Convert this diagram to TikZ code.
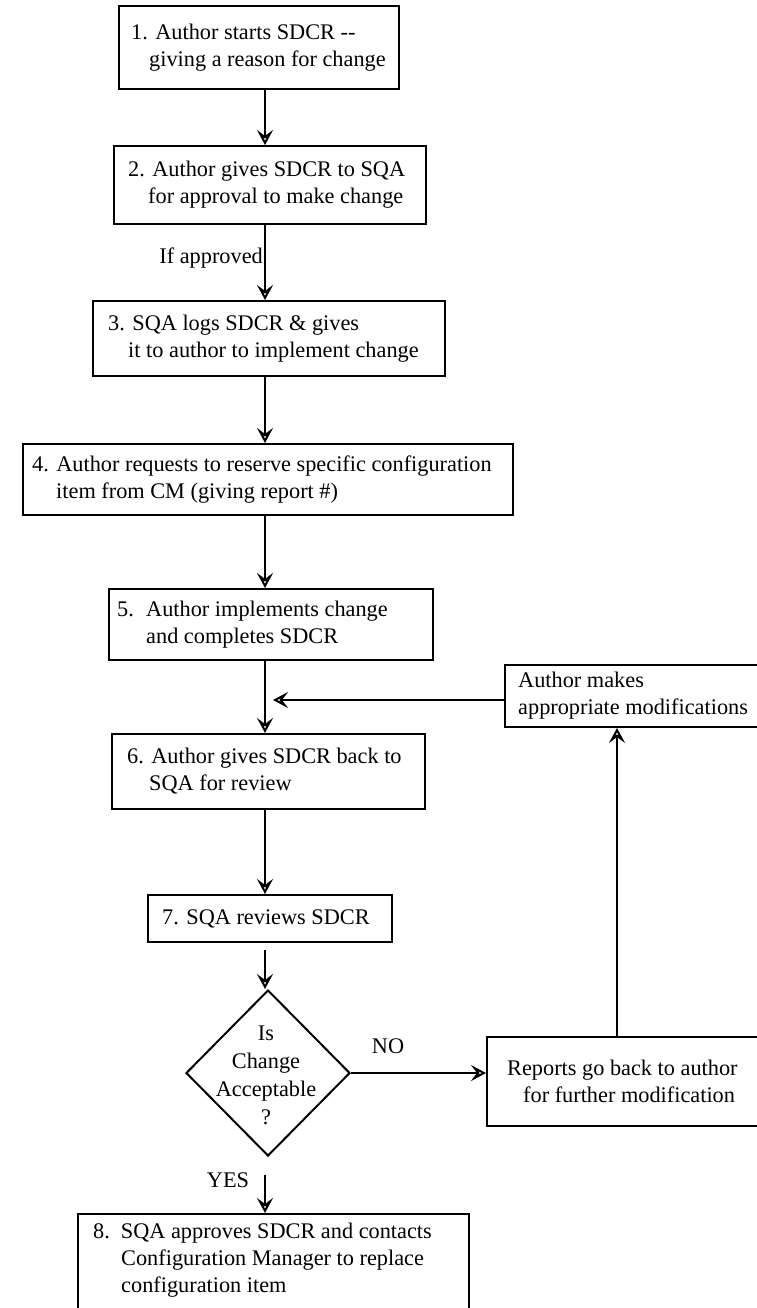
\documentclass[tikz,border=0pt]{standalone}
\usepackage{fontspec}
\setmainfont{Liberation Serif}
\usetikzlibrary{arrows.meta,shapes.geometric}
\begin{document}
\begin{tikzpicture}[x=1pt,y=-1pt,
  txt/.style={font=\fontsize{22.3}{27}\selectfont, align=left, inner sep=0pt},
  stepbox/.style={draw, line width=2pt, rectangle, anchor=north west, inner sep=0pt},
  flow/.style={line width=2pt, -{Stealth[open, length=15pt, width=16pt, inset=6pt]}}
]
\useasboundingbox (0,0) rectangle (756,1308);
\fill[white] (0,0) rectangle (756,1308);

% the main column of arrows
\coordinate (spine) at (265,0);
\coordinate (up) at (617,0);

% process boxes
\node[stepbox, minimum width=280, minimum height=83] (b1) at (118,5) {};
\node[txt, anchor=west] (t1) at ([xshift=13]b1.west)
  {1. Author starts SDCR -{}-\\\hspace*{18pt}giving a reason for change};

\node[stepbox, minimum width=312, minimum height=78] (b2) at (113,145) {};
\node[txt, anchor=west] (t2) at ([xshift=15]b2.west)
  {2. Author gives SDCR to SQA\\\hspace*{20pt}for approval to make change};

\node[stepbox, minimum width=352, minimum height=75] (b3) at (92,300) {};
\node[txt, anchor=west] (t3) at ([xshift=16]b3.west)
  {3. SQA logs SDCR \& gives\\\hspace*{20pt}it to author to implement change};

\node[stepbox, minimum width=490, minimum height=71] (b4) at (22,443) {};
\node[txt, anchor=west] (t4) at ([xshift=10]b4.west)
  {4. Author requests to reserve specific configuration\\\hspace*{24pt}item from CM (giving report \#)};

\node[stepbox, minimum width=324, minimum height=71] (b5) at (108,588) {};
\node[txt, anchor=west] (t5) at ([xshift=9]b5.west)
  {5.\hspace{12.3pt}Author implements change\\\hspace*{29pt}and completes SDCR};

\node[stepbox, minimum width=256, minimum height=62] (am) at (504,664) {};
\node[txt, anchor=west] (tam) at ([xshift=14]am.west)
  {Author makes\\appropriate modifications};

\node[stepbox, minimum width=313, minimum height=75] (b6) at (111,733) {};
\node[txt, anchor=west] (t6) at ([xshift=16]b6.west)
  {6. Author gives SDCR back to\\\hspace*{22pt}SQA for review};

\node[stepbox, minimum width=244, minimum height=47] (b7) at (147,894) {};
\node[txt, anchor=west] (t7) at ([xshift=15]b7.west) {7. SQA reviews SDCR};

% decision
\node[diamond, draw, line width=2pt, minimum width=164, minimum height=166, inner sep=0pt] (dm) at (268,1073) {};
\node[txt, align=center, font=\fontsize{22.3}{28}\selectfont] (tdm) at (266,1075)
  {Is\\Change\\Acceptable\\?};

\node[stepbox, minimum width=274, minimum height=89] (rb) at (486,1036) {};
\node[txt, anchor=west] (trb) at ([xshift=21]rb.west)
  {Reports go back to author\\\hspace*{16pt}for further modification};

\node[stepbox, minimum width=391, minimum height=110] (b8) at (77,1213) {};
\node[txt, anchor=north west] (t8) at ([xshift=16,yshift=-10]b8.north west)
  {8.\hspace{11pt}SQA approves SDCR and contacts\\\hspace*{28pt}Configuration Manager to replace\\\hspace*{28pt}configuration item};

% connectors
\draw[flow] (b1.south -| spine) -- (b2.north -| spine);
\draw[flow] (b2.south -| spine) -- (b3.north -| spine);
\node[txt, anchor=east] (lif) at (263,258) {If approved};
\draw[flow] (b3.south -| spine) -- (b4.north -| spine);
\draw[flow] (b4.south -| spine) -- (b5.north -| spine);
\draw[flow] (b5.south -| spine) -- (b6.north -| spine);
\coordinate (fb) at (273,700);
\draw[flow] (am.west |- fb) -- (fb);
\draw[flow] (b6.south -| spine) -- (b7.north -| spine);
\draw[flow, shorten <=7pt] (b7.south -| spine) -- (dm.north -| spine);
\draw[flow] (dm.east) -- (rb.west |- dm.east);
\node[txt] (lno) at (388,1046) {NO};
\draw[flow] (rb.north -| up) -- (am.south -| up);
\draw[flow, shorten <=18pt] (dm.south -| spine) -- (b8.north -| spine);
\node[txt] (lyes) at (228,1180) {YES};
\end{tikzpicture}
\end{document}
